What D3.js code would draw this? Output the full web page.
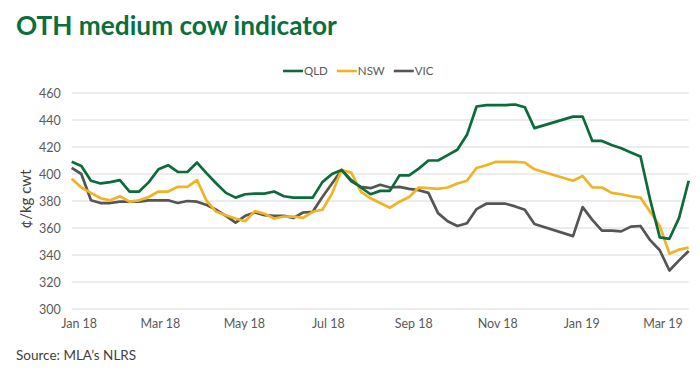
<!DOCTYPE html>
<html><head><meta charset="utf-8">
<script src="https://cdn.jsdelivr.net/npm/d3@7"></script>
<style>body{margin:0;background:#fff;} svg{display:block;}</style>
</head><body>
<svg id="chart" width="700" height="373"></svg>
<script>
// ---- data ----
const startDate = "2017-12-27";           // first weekly observation
const weekCount = 65;
const seriesNames = ["QLD", "NSW", "VIC"];
const qld = [409,406,395,393,394,395.5,387,387,394,403.5,406.5,401.5,401.5,408.5,400.5,393,386,382.5,385,385.5,
  385.5,387,383.5,382.5,382.5,382.5,394,400,403,395.5,390,385,387.5,387.5,399,399,404,410,410,414,
  418,429,450,451,451,451,451.5,449.5,434,null,null,null,442.5,442.5,424.5,424.5,421.5,419,416,413,
  381,353,352,367.5,395];
const nsw = [396.5,390,386,382,380.5,383.5,379.5,380.5,383,387,387,390.5,390.5,395.5,380,372,369.5,367,365,372.5,
  370.5,367,368.5,368.5,367.5,372,373.5,385.5,403,401,387,382,378.5,375,379.5,383,390,389.5,389,390,
  393,395,404.5,406.5,409,409,409,408.5,403.5,null,null,null,395,398.5,390,390,386,385,383.5,382.5,
  372,361.5,341,344,345.5];
const vic = [404.5,400,380.5,378.5,378.5,379.5,379.5,379.5,380.5,380.5,380.5,378.5,380,379.5,377,373.5,369,364,369,371.5,
  369.5,369,369,367.5,371.5,372,383,393,403,394.5,390.5,389.5,392,390,390.5,389,388,386,371,365,
  361.5,363.5,374,378,378,378,376,373.5,363,null,null,null,354,375.5,366,358,358,357.5,361,361.5,
  351,343.5,328.5,336,343];
const yTicks = [300,320,340,360,380,400,420,440,460];
const xTickDates = ["2018-01-01","2018-03-01","2018-05-01","2018-07-01","2018-09-01","2018-11-01","2019-01-01","2019-03-01"];
const xTickLabels = ["Jan 18","Mar 18","May 18","Jul 18","Sep 18","Nov 18","Jan 19","Mar 19"];
const titleText = "OTH medium cow indicator";
const yAxisTitle = "¢/kg cwt";
const sourceText = "Source: MLA’s NLRS";

// ---- styles ----
const colors = {QLD:"#0b6b3a", NSW:"#f0b323", VIC:"#555555"};
const font = "Lato, 'Open Sans', sans-serif";
const textGrey = "#595959";

const parse = d3.timeParse("%Y-%m-%d");
const start = parse(startDate);
const dates = d3.range(weekCount).map(i => d3.timeDay.offset(start, 7 * i));
const values = {QLD: qld, NSW: nsw, VIC: vic};

const svg = d3.select("#chart");
const plotLeft = 71.7, plotRight = 688.7, plotTop = 93, plotBottom = 309;

const x = d3.scaleTime().domain([dates[0], dates[dates.length - 1]]).range([plotLeft, plotRight]);
const y = d3.scaleLinear().domain([300, 460]).range([plotBottom, plotTop]);

// title
const title = svg.append("text").attr("x", 16).attr("y", 35)
  .attr("font-family", font).attr("font-weight", 700).attr("font-size", 26)
  .attr("fill", "#0b6e3c").text(titleText);
const tw = title.node().getComputedTextLength();
title.attr("font-size", 26 * 321 / tw);

// gridlines
svg.append("g").selectAll("line").data(yTicks).join("line")
  .attr("x1", plotLeft).attr("x2", plotRight)
  .attr("y1", d => y(d)).attr("y2", d => y(d))
  .attr("stroke", "#d9d9d9").attr("stroke-width", 1);

// y axis (labels only)
const yAxis = d3.axisLeft(y).tickValues(yTicks).tickSize(0).tickPadding(11);
const gy = svg.append("g").attr("transform", `translate(${plotLeft},0)`).call(yAxis);
gy.select(".domain").remove();
gy.selectAll("text").attr("font-family", font).attr("font-size", 12.5).attr("fill", textGrey);

// x axis (labels only)
const xAxis = d3.axisBottom(x).tickValues(xTickDates.map(parse))
  .tickFormat((d, i) => xTickLabels[i]).tickSize(0).tickPadding(10);
const gx = svg.append("g").attr("transform", `translate(0,${plotBottom})`).call(xAxis);
gx.select(".domain").remove();
gx.selectAll("text").attr("font-family", font).attr("font-size", 12.5).attr("fill", textGrey);

// y axis title
svg.append("text").attr("transform", "translate(31,199) rotate(-90)")
  .attr("text-anchor", "middle").attr("font-family", font).attr("font-size", 15)
  .attr("fill", "#404040").text(yAxisTitle);

// lines
const line = d3.line().x(d => x(d.date)).y(d => y(d.v));
seriesNames.slice().reverse().forEach(name => {
  const pts = dates.map((d, i) => ({date: d, v: values[name][i]})).filter(p => p.v != null);
  svg.append("path").datum(pts).attr("d", line)
    .attr("fill", "none").attr("stroke", colors[name]).attr("stroke-width", 2.7)
    .attr("stroke-linejoin", "round");
});

// legend
const legend = svg.append("g");
let lx = 283;
seriesNames.forEach(name => {
  legend.append("line").attr("x1", lx).attr("x2", lx + 20).attr("y1", 71).attr("y2", 71)
    .attr("stroke", colors[name]).attr("stroke-width", 2.6);
  const t = legend.append("text").attr("x", lx + 21).attr("y", 75)
    .attr("font-family", font).attr("font-size", 11.5).attr("fill", textGrey).text(name);
  lx += 21 + t.node().getComputedTextLength() + 9;
});

// source
svg.append("text").attr("x", 16).attr("y", 360)
  .attr("font-family", font).attr("font-size", 13.5).attr("fill", "#404040").text(sourceText);
</script>
</body></html>
